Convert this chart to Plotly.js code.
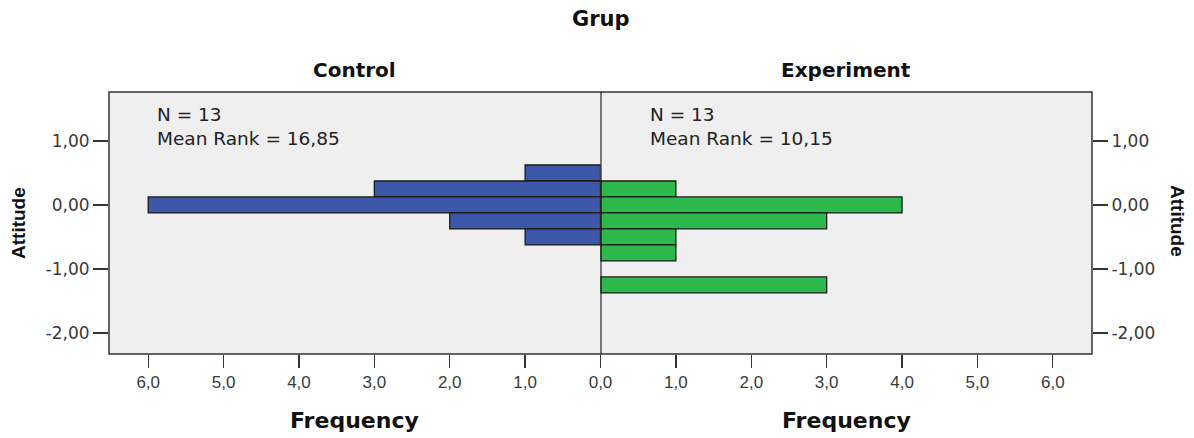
<!DOCTYPE html>
<html>
<head>
<meta charset="utf-8">
<script src="https://cdn.plot.ly/plotly-3.0.1.min.js"></script>
<style>
html,body{margin:0;padding:0;background:#fff;}
#chart{width:1194px;height:438px;}
</style>
</head>
<body>
<div id="chart"></div>
<script>
// ---- Data ----
const groupTitle = "Grup";
const groupNames = ["Control", "Experiment"];
const controlBins = [0.5, 0.25, 0.0, -0.25, -0.5];
const controlFreq = [1, 3, 6, 2, 1];
const experimentBins = [0.25, 0.0, -0.25, -0.5, -0.75, -1.25];
const experimentFreq = [1, 4, 3, 1, 1, 3];
const statN = ["N = 13", "N = 13"];
const statRank = ["Mean Rank = 16,85", "Mean Rank = 10,15"];
const freqTickVals = [0, 1, 2, 3, 4, 5, 6];
const freqTickText = ["0,0", "1,0", "2,0", "3,0", "4,0", "5,0", "6,0"];
const yTickVals = [1, 0, -1, -2];
const yTickText = ["1,00", "0,00", "-1,00", "-2,00"];
const yTitle = "Attitude";
const xTitle = "Frequency";
const binWidth = 0.25;

const blue = "#3d57a9";
const green = "#2db84b";
const edge = "#1a1a1a";
const axisCol = "#333";
const sans = "DejaVu Sans, Liberation Sans, Arial";
const yTickFont = {family: sans, size: 17, color: "#3a3a3a"};
const xTickFont = {family: "Liberation Sans Narrow, Liberation Sans, Arial", size: 17, color: "#3a3a3a"};

const traces = [
  {type: "bar", orientation: "h", y: controlBins, x: controlFreq, width: binWidth,
   marker: {color: blue, line: {color: edge, width: 1.3}}, xaxis: "x", yaxis: "y", hoverinfo: "x+y"},
  {type: "bar", orientation: "h", y: experimentBins, x: experimentFreq, width: binWidth,
   marker: {color: green, line: {color: edge, width: 1.3}}, xaxis: "x2", yaxis: "y2", hoverinfo: "x+y"}
];

const yRange = [-2.33, 1.766];
const xMax = 6.52;

function centerText(txt, x, y, xs, ys, size, extra) {
  return Object.assign({text: txt, xref: "paper", yref: "paper", x: x, y: y, xshift: xs, yshift: ys,
    xanchor: "center", yanchor: "middle", showarrow: false,
    font: {family: sans, size: size, color: "#111"}}, extra || {});
}

const layout = {
  width: 1194, height: 438,
  margin: {l: 109, r: 102, t: 92, b: 84},
  paper_bgcolor: "#ffffff",
  plot_bgcolor: "#efefef",
  showlegend: false,
  bargap: 0,
  xaxis: {domain: [0, 0.5], range: [xMax, 0], tickvals: freqTickVals.slice(1), ticktext: freqTickText.slice(1),
          ticks: "outside", ticklen: 13, tickcolor: axisCol, tickwidth: 1.3, showgrid: false, zeroline: false,
          showline: false, tickfont: xTickFont, anchor: "y"},
  xaxis2: {domain: [0.5, 1], range: [0, xMax], tickvals: freqTickVals, ticktext: freqTickText,
          ticks: "outside", ticklen: 13, tickcolor: axisCol, tickwidth: 1.3, showgrid: false, zeroline: false,
          showline: false, tickfont: xTickFont, anchor: "y2"},
  yaxis: {range: yRange, tickvals: yTickVals, ticktext: yTickText, ticks: "outside", ticklen: 15,
          tickcolor: axisCol, tickwidth: 1.3, showgrid: false, zeroline: false, showline: false,
          tickfont: yTickFont, anchor: "x"},
  yaxis2: {range: yRange, tickvals: yTickVals, ticktext: yTickText, ticks: "outside", ticklen: 15,
          tickcolor: axisCol, tickwidth: 1.3, showgrid: false, zeroline: false, showline: false,
          tickfont: yTickFont, anchor: "x2", side: "right", overlaying: "y", matches: "y"},
  shapes: [
    {type: "rect", xref: "paper", yref: "paper", x0: 0, x1: 1, y0: 0, y1: 1,
     line: {color: axisCol, width: 1.5}, layer: "above"},
    {type: "line", xref: "x2", yref: "paper", x0: 0, x1: 0, y0: 0, y1: 1,
     line: {color: "#000", width: 2}, layer: "above"}
  ],
  annotations: [
    centerText("<b>" + groupTitle + "</b>", 0.5, 1, 0, 73, 21),
    centerText("<b>" + groupNames[0] + "</b>", 0.25, 1, 0, 22, 20),
    centerText("<b>" + groupNames[1] + "</b>", 0.75, 1, 0, 22, 20),
    {text: statN[0] + "<br>" + statRank[0], xref: "x", yref: "y", x: 5.907, y: 1.23, xanchor: "left",
     yanchor: "middle", align: "left", showarrow: false, font: {family: sans, size: 18.5, color: "#222"}},
    {text: statN[1] + "<br>" + statRank[1], xref: "x2", yref: "y2", x: 0.624, y: 1.23, xanchor: "left",
     yanchor: "middle", align: "left", showarrow: false, font: {family: sans, size: 18.5, color: "#222"}},
    centerText("<b>" + xTitle + "</b>", 0.25, 0, 0, -66, 22),
    centerText("<b>" + xTitle + "</b>", 0.75, 0, 0, -66, 22),
    centerText("<b>" + yTitle + "</b>", 0, 0.5, -91, 0, 19,
      {textangle: -90, font: {family: "Liberation Sans Narrow, Liberation Sans, Arial", size: 19, color: "#111"}}),
    centerText("<b>" + yTitle + "</b>", 1, 0.5, 86, 2, 19,
      {textangle: 90, font: {family: "Liberation Sans Narrow, Liberation Sans, Arial", size: 19, color: "#111"}})
  ]
};

Plotly.newPlot("chart", traces, layout, {displayModeBar: false, staticPlot: true});
</script>
</body>
</html>
